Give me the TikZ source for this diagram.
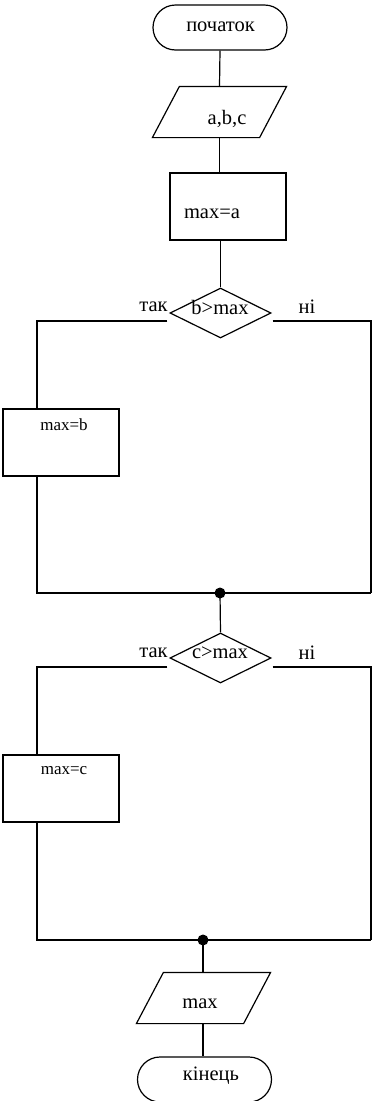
\documentclass[tikz,border=0pt]{standalone}
\usepackage{fontspec}
\setmainfont{Liberation Serif}
\usetikzlibrary{shapes.geometric,shapes.misc}

\begin{document}
\begin{tikzpicture}[x=1pt,y=-1pt,line width=1.2pt,
  every node/.style={font=\fontsize{20.5}{24}\selectfont},
  txt/.style={inner sep=0pt},
  small/.style={inner sep=0pt,font=\fontsize{17}{20}\selectfont},
  term/.style={draw,rounded rectangle,minimum width=134pt,minimum height=45pt,inner sep=0pt},
  % frame of an input/output block; the slanted outline is drawn from its corners
  ioframe/.style={rectangle,minimum width=106pt,minimum height=50pt,inner sep=0pt},
  proc/.style={draw,rectangle,minimum width=116pt,minimum height=67pt,inner sep=0pt},
  cond/.style={draw,diamond,minimum width=101pt,minimum height=50pt,inner sep=0pt},
  joint/.style={circle,fill,inner sep=0pt,minimum size=11pt},
]
\useasboundingbox (0,0) rectangle (372,1101);

% left and right rails of both branches
\coordinate (L) at (37,0);
\coordinate (R) at (371,0);

% main column
\node[term] (s) at (220,27.5) {};
\node[txt] (ts) at (220.5,26.5) {початок};

\node[ioframe] (inp) at (219.5,112) {};
\draw ([xshift=13.5pt]inp.north west) -- ([xshift=13.5pt]inp.north east)
  -- ([xshift=-13.5pt]inp.south east) -- ([xshift=-13.5pt]inp.south west) -- cycle;
\node[txt] (tin) at (227,119) {a,b,c};

\node[proc] (pa) at (228,206.5) {};
\node[txt] (tpa) at (212,214) {max=a};

% first decision
\node[cond] (c1) at (220.5,313) {};
\node[txt] (tc1) at (220,307) {b>max};
\node[txt] (y1) at (153.5,307) {так};
\node[txt] (n1) at (307,307) {ні};

\node[proc] (pb) at (61,442.5) {};
\node[small] (tpb) at (64,425) {max=b};

\coordinate (j1) at (220,593);

% second decision
\node[cond] (c2) at (220.5,658) {};
\node[txt] (tc2) at (220,653) {c>max};
\node[txt] (y2) at (153.5,653) {так};
\node[txt] (n2) at (307,653) {ні};

\node[proc] (pc) at (61,788.5) {};
\node[small] (tpc) at (64,771) {max=c};

\coordinate (j2) at (203,940);

% output and end
\node[ioframe] (outp) at (203.5,998) {};
\draw ([xshift=13.5pt]outp.north west) -- ([xshift=13.5pt]outp.north east)
  -- ([xshift=-13.5pt]outp.south east) -- ([xshift=-13.5pt]outp.south west) -- cycle;
\node[txt] (tout) at (200,1004) {max};

\node[term] (e) at (204.5,1079.5) {};
\node[txt] (te) at (211,1076) {кінець};

% connectors
\draw (s.south) -- (inp.north);
\draw (inp.south) -- (inp.south |- pa.north);
\draw (pa.south -| c1.north) -- (c1.north);

\draw ([xshift=-2pt,yshift=-8pt]c1.west) -| (pb.north -| L);
\draw (pb.south -| L) |- (j1 -| R);
\draw ([xshift=1pt,yshift=-8pt]c1.east) -| (j1 -| R);
\draw (j1) -- (c2.north);

\draw ([xshift=-2pt,yshift=-9pt]c2.west) -| (pc.north -| L);
\draw (pc.south -| L) |- (j2 -| R);
\draw ([xshift=1pt,yshift=-9pt]c2.east) -| (j2 -| R);
\draw (j2) -- (j2 |- outp.north);
\draw (outp.south -| j2) -- (e.north -| j2);

% junction dots
\node[joint] (d1) at (j1) {};
\node[joint] (d2) at (j2) {};
\end{tikzpicture}
\end{document}
